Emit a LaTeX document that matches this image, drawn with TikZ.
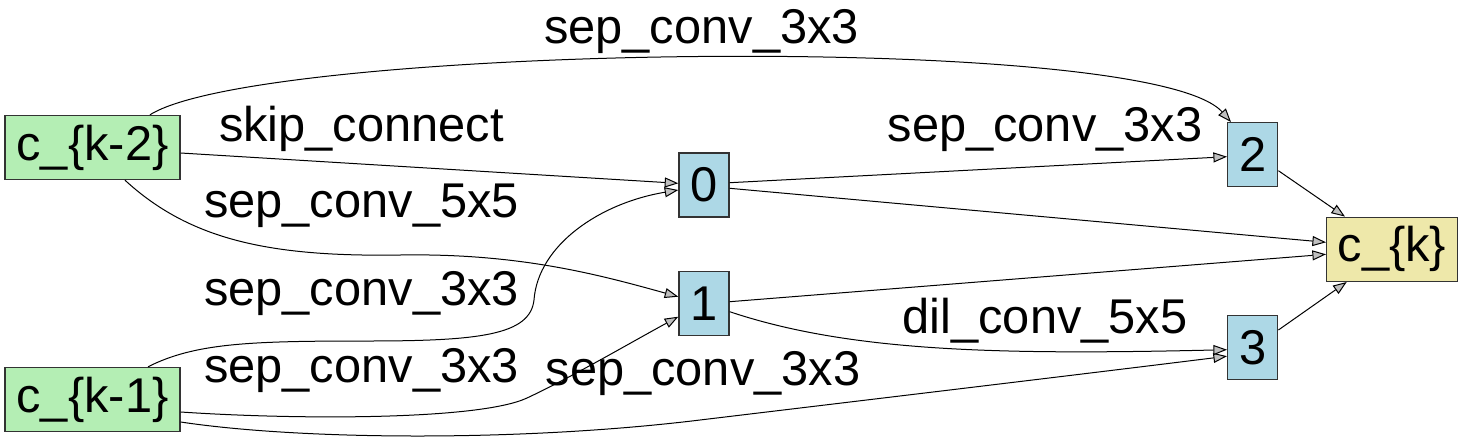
\documentclass[tikz,border=0pt]{standalone}
\usepackage{fontspec}
\setmainfont{Liberation Sans}
\usetikzlibrary{arrows.meta}
\definecolor{inputgreen}{HTML}{B4EEB4}
\definecolor{interblue}{HTML}{ADD8E6}
\definecolor{outyellow}{HTML}{EEE8AA}
\definecolor{boxline}{HTML}{333333}
\tikzset{
  every node/.style={font=\fontsize{24.4}{28}\selectfont},
  basebox/.style={draw=boxline, line width=0.7pt, inner sep=0pt, minimum height=32pt},
  inbox/.style={basebox, fill=inputgreen, minimum width=87.5pt},
  midbox/.style={basebox, fill=interblue, minimum width=25pt},
  outbox/.style={basebox, fill=outyellow, minimum width=65.3pt},
  edge/.style={draw=black, line width=0.5pt, -{Triangle[length=6.8pt,width=5pt,fill=lightgray]}},
  lbl/.style={anchor=base, inner sep=0pt}
}
\begin{document}
\begin{tikzpicture}[x=0.5pt,y=-0.5pt]
\path[use as bounding box] (0,0) rectangle (1463,446);
% nodes
\node[inbox] (k2) at (92.5,147.5) {c\_\{k-2\}};
\node[inbox] (k1) at (92.5,399.5) {c\_\{k-1\}};
\node[midbox] (n0) at (704,185) {0};
\node[midbox] (n1) at (704,303.7) {1};
\node[midbox] (n2) at (1252.7,154.7) {2};
\node[midbox] (n3) at (1252.7,347.7) {3};
\node[outbox] (ck) at (1392,249.3) {c\_\{k\}};
% edges
\draw[edge] ([shift={(57.5,0)}]k2.north) .. controls (260,45) and (1150,30) .. ([shift={(4,0)}]n2.north west);
\draw[edge] ([shift={(0,5.5)}]k2.east) -- ([shift={(0,-1.7)}]n0.west);
\draw[edge] ([shift={(32.5,0)}]k2.south) .. controls (190,240) and (270,257) .. (400,255)
   .. controls (520,253) and (600,275) .. ([shift={(0,-7)}]n1.west);
\draw[edge] ([shift={(55.5,0)}]k1.north) .. controls (195,343) and (250,341) .. (367,341)
   .. controls (480,341) and (530,335) .. (534,300)
   .. controls (538,245) and (600,203) .. ([shift={(0,5)}]n0.west);
\draw[edge] ([shift={(0,12.5)}]k1.east) .. controls (300,420) and (480,420) .. (527,398)
   .. controls (570,378) and (630,343) .. ([shift={(0,13)}]n1.west);
\draw[edge] ([shift={(0,22.5)}]k1.east) .. controls (300,440) and (520,442) .. (700,420)
   .. controls (900,396) and (1100,372) .. ([shift={(0,8.5)}]n3.west);
\draw[edge] ([shift={(0,-2.3)}]n0.east) -- ([shift={(0,2)}]n2.west);
\draw[edge] ([shift={(0,3.3)}]n0.east) -- ([shift={(0,-7)}]ck.west);
\draw[edge] ([shift={(0,-2)}]n1.east) -- ([shift={(0,5)}]ck.west);
\draw[edge] ([shift={(0,8)}]n1.east) .. controls (850,352) and (1000,355) .. ([shift={(0,2)}]n3.west);
\draw[edge] ([shift={(0,16)}]n2.east) -- ([shift={(-47,0)}]ck.north);
\draw[edge] ([shift={(0,-17.7)}]n3.east) -- ([shift={(-45.3,0)}]ck.south);
% labels
\node[lbl] (ltop) at (701.5,43) {sep\_conv\_3x3};
\node[lbl] (lskip) at (361.5,141.7) {skip\_connect};
\node[lbl] (lfive) at (361.5,217) {sep\_conv\_5x5};
\node[lbl] (lkzero) at (361.5,305) {sep\_conv\_3x3};
\node[lbl] (lkone) at (361.5,382) {sep\_conv\_3x3};
\node[lbl] (lkthree) at (703,385) {sep\_conv\_3x3};
\node[lbl] (lzt) at (1045,141.7) {sep\_conv\_3x3};
\node[lbl] (ldil) at (1045,333) {dil\_conv\_5x5};
\end{tikzpicture}
\end{document}
